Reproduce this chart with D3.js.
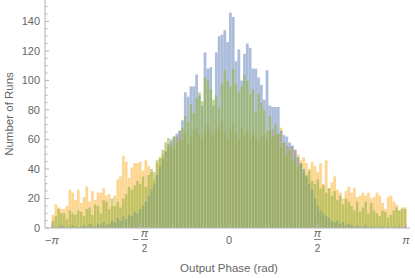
<!DOCTYPE html>
<html>
<head>
<meta charset="utf-8">
<script src="https://cdn.jsdelivr.net/npm/d3@7"></script>
<style>
body { margin: 0; background: #fff; }
text { font-family: "Liberation Sans", Arial, sans-serif; fill: #666; }
</style>
</head>
<body>
<svg id="chart" width="415" height="278"></svg>
<script>
// histogram bins: 126 bins of width 0.05 starting at -3.15
var binStart = -3.15;
var binWidth = 0.05;

var orangeCounts = [
  9, 16, 14, 13, 13, 15, 26, 24, 19, 26, 17, 21, 28, 18, 25, 19, 24, 24, 27, 22,
  23, 15, 22, 33, 35, 49, 45, 34, 41, 44, 44, 45, 39, 46, 42, 38, 33, 44, 47, 50,
  52, 55, 58, 54, 62, 66, 60, 64, 57, 62, 66, 68, 63, 60, 66, 70, 64, 62, 68, 66,
  72, 65, 60, 66, 70, 64, 60, 68, 62, 66, 60, 64, 61, 58, 62, 64, 60, 66, 67, 63,
  64, 68, 58, 56, 55, 55, 53, 50, 46, 48, 44, 40, 45, 42, 38, 44, 30, 46, 27, 31,
  35, 26, 24, 20, 25, 28, 24, 27, 21, 22, 24, 22, 24, 20, 21, 24, 22, 17, 13, 21,
  22, 18, 16, 12, 14, 14
];

var blueCounts = [
  1, 0, 1, 2, 1, 0, 1, 2, 1, 0, 1, 2, 1, 3, 2, 1, 3, 2, 4, 2,
  3, 5, 4, 7, 5, 8, 6, 9, 8, 11, 10, 13, 15, 18, 22, 26, 30, 36, 42, 47,
  52, 57, 60, 62, 64, 66, 73, 92, 89, 96, 96, 104, 90, 83, 119, 108, 109, 83, 119, 130,
  131, 134, 126, 146, 143, 113, 121, 100, 118, 125, 122, 108, 108, 102, 97, 87, 107, 83, 82, 82,
  82, 66, 63, 62, 58, 56, 53, 48, 44, 40, 35, 30, 26, 20, 15, 12, 10, 8, 7, 5,
  4, 5, 3, 4, 2, 3, 2, 1, 2, 1, 1, 2, 0, 1, 1, 0, 1, 1, 0, 1,
  0, 1, 0, 1, 0, 1
];

var greenCounts = [
  5, 8, 13, 10, 10, 6, 12, 10, 9, 12, 11, 8, 13, 14, 9, 16, 15, 10, 19, 18,
  13, 20, 15, 18, 14, 20, 23, 28, 26, 29, 32, 30, 35, 28, 36, 40, 38, 46, 48, 53,
  58, 61, 56, 62, 58, 60, 68, 76, 72, 84, 78, 88, 92, 86, 102, 100, 94, 87, 90, 82,
  98, 107, 100, 96, 108, 98, 92, 96, 104, 100, 91, 94, 79, 91, 85, 80, 66, 76, 62, 71,
  64, 55, 58, 50, 53, 46, 48, 42, 44, 38, 36, 39, 32, 30, 33, 27, 29, 24, 27, 22,
  25, 19, 22, 16, 20, 18, 15, 12, 18, 11, 14, 18, 10, 17, 12, 10, 8, 12, 11, 7,
  9, 12, 14, 12, 13, 13
];

var yTickValues = [0, 20, 40, 60, 80, 100, 120, 140];
var xTickValues = [-Math.PI, -Math.PI / 2, 0, Math.PI / 2, Math.PI];
var xTickLabels = ["−π", "−π/2", "0", "π/2", "π"];

var svg = d3.select("#chart");

var x = d3.scaleLinear().domain([-Math.PI, Math.PI]).range([52, 406]);
var y = d3.scaleLinear().domain([0, 154.5]).range([228, 0]);

// draw order: orange underneath, then blue, green on top
var series = [
  { counts: orangeCounts, color: "rgb(251,177,46)" },
  { counts: blueCounts, color: "rgb(94,128,184)" },
  { counts: greenCounts, color: "rgb(143,176,50)" }
];

series.forEach(function(s) {
  svg.append("g")
    .selectAll("rect")
    .data(s.counts)
    .join("rect")
    .attr("x", function(d, i) { return x(binStart + i * binWidth); })
    .attr("width", function(d, i) { return x(binStart + (i + 1) * binWidth) - x(binStart + i * binWidth); })
    .attr("y", function(d) { return y(d); })
    .attr("height", function(d) { return y(0) - y(d); })
    .attr("fill", s.color)
    .attr("fill-opacity", 0.52)
    .attr("stroke", "#fff")
    .attr("stroke-opacity", 0.18)
    .attr("stroke-width", 0.5);
});

// axes
var axisColor = "#b4b4b4";
svg.append("line")
  .attr("x1", 45).attr("x2", 410)
  .attr("y1", y(0)).attr("y2", y(0))
  .attr("stroke", axisColor).attr("stroke-width", 1);
svg.append("line")
  .attr("x1", 45).attr("x2", 45)
  .attr("y1", 0).attr("y2", y(0))
  .attr("stroke", axisColor).attr("stroke-width", 1);

// y ticks
var minor = d3.range(0, 155, 5).filter(function(v) { return v % 20 !== 0; });
svg.append("g").selectAll("line")
  .data(minor)
  .join("line")
  .attr("x1", 45).attr("x2", 47.5)
  .attr("y1", function(d) { return y(d); }).attr("y2", function(d) { return y(d); })
  .attr("stroke", axisColor);
svg.append("g").selectAll("line")
  .data(yTickValues)
  .join("line")
  .attr("x1", 45).attr("x2", 49)
  .attr("y1", function(d) { return y(d); }).attr("y2", function(d) { return y(d); })
  .attr("stroke", axisColor);
svg.append("g").selectAll("text")
  .data(yTickValues)
  .join("text")
  .attr("x", 40)
  .attr("y", function(d) { return y(d) + 4; })
  .attr("text-anchor", "end")
  .attr("font-size", 11)
  .text(function(d) { return d; });

// x ticks
svg.append("g").selectAll("line")
  .data(xTickValues)
  .join("line")
  .attr("x1", function(d) { return x(d); }).attr("x2", function(d) { return x(d); })
  .attr("y1", y(0)).attr("y2", y(0) - 4)
  .attr("stroke", axisColor);

xTickLabels.forEach(function(lab, i) {
  var cx = x(xTickValues[i]);
  var g = svg.append("g");
  var neg = lab.charAt(0) === "−";
  var body = neg ? lab.slice(1) : lab;
  if (body.indexOf("/") >= 0) {
    var parts = body.split("/");
    var fx = neg ? cx + 4 : cx;
    if (neg) {
      g.append("text").attr("x", cx - 5).attr("y", 243).attr("text-anchor", "middle")
        .attr("font-size", 11).text("−");
    }
    g.append("text").attr("x", fx).attr("y", 237).attr("text-anchor", "middle")
      .attr("font-size", 11).attr("font-style", "italic").text(parts[0]);
    g.append("line").attr("x1", fx - 3.5).attr("x2", fx + 3.5)
      .attr("y1", 239.5).attr("y2", 239.5).attr("stroke", "#666").attr("stroke-width", 0.8);
    g.append("text").attr("x", fx).attr("y", 252).attr("text-anchor", "middle")
      .attr("font-size", 10).text(parts[1]);
  } else {
    var t = g.append("text").attr("x", cx).attr("y", 244).attr("text-anchor", "middle")
      .attr("font-size", 11);
    if (neg) t.append("tspan").text("−");
    t.append("tspan").attr("font-style", body === "0" ? "normal" : "italic").text(body);
  }
});

// axis titles
svg.append("text")
  .attr("x", 229).attr("y", 272)
  .attr("text-anchor", "middle")
  .attr("font-size", 11.5)
  .text("Output Phase (rad)");
svg.append("text")
  .attr("transform", "translate(13,114) rotate(-90)")
  .attr("text-anchor", "middle")
  .attr("font-size", 11.5)
  .text("Number of Runs");
</script>
</body>
</html>
